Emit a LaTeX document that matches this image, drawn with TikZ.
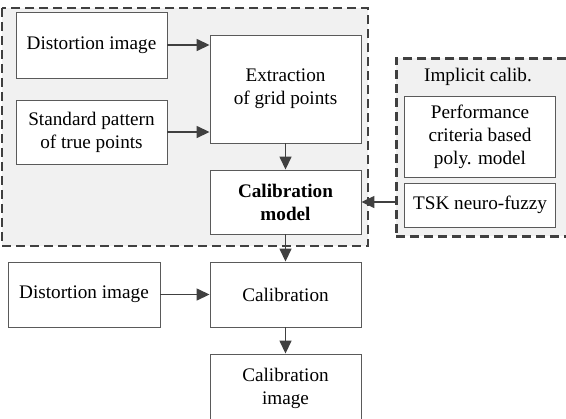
\documentclass[tikz,border=0pt]{standalone}
\usepackage{fontspec}
\setmainfont{Liberation Serif}
\usetikzlibrary{arrows,arrows.meta}
\definecolor{linegray}{HTML}{404040}
\definecolor{boxgray}{HTML}{5A5A5A}
\definecolor{bggray}{HTML}{F1F1F1}
\tikzset{
  blk/.style={draw=boxgray, line width=0.45pt, fill=white, align=center, inner sep=0pt,
    minimum width=75.5pt, font=\fontsize{9.6}{11.5}\selectfont},
  arr/.style={draw=linegray, line width=0.75pt, -{Triangle[length=6.5pt,width=6pt]}},
  grp/.style={draw=linegray, fill=bggray, line width=1.4pt, dash pattern=on 4.5pt off 2.5pt}
}
\begin{document}
\begin{tikzpicture}[x=0.5pt,y=-0.5pt]
\useasboundingbox (0,0) rectangle (566,418);
%-------->groups<--------------
\draw [grp] (2,8) rectangle (368,246); % explicit part
\node [grp, rectangle, minimum width=96pt, minimum height=89pt, anchor=north west] (implicit) at (395,57) {}; % implicit part
\node [font=\fontsize{9.6}{11.5}\selectfont] (implab) at (478,77) {Implicit calib.};
%-------->nodes<--------------
\node [blk, minimum height=33pt] (dist) at (91.5,45) {Distortion image};
\node [blk, minimum height=32pt] (pattern) at (91.5,132) {Standard pattern\\of true points};
\node [blk, minimum height=54pt] (extract) at (285.5,89) {Extraction\\of grid points};
\node [blk, minimum height=32pt] (model) at (285.5,202) {\textbf{Calibration}\\\textbf{model}};
\node [blk, minimum height=40.5pt] (perf) at (480,136.5) {Performance\\criteria based\\poly. model};
\node [blk, minimum height=22pt] (tsk) at (480,205) {TSK neuro-fuzzy};
\node [blk, minimum width=76pt, minimum height=32.5pt] (distb) at (84,294.5) {Distortion image};
\node [blk, minimum height=32.5pt] (calib) at (285.5,294.5) {Calibration};
\node [blk, minimum height=34pt] (calimg) at (285.5,388) {Calibration\\image};
%------------->arrows<------------------
\draw [arr] (dist.east) -- (dist.east -| extract.west);
\draw [arr] (pattern.east) -- (pattern.east -| extract.west);
\draw [arr] (extract) -- (model);
\draw [arr] (implicit.west |- model.east) -- (model.east);
\draw [arr] (model) -- (calib);
\draw [arr] (distb) -- (calib);
\draw [arr] (calib) -- (calimg);
\end{tikzpicture}
\end{document}
